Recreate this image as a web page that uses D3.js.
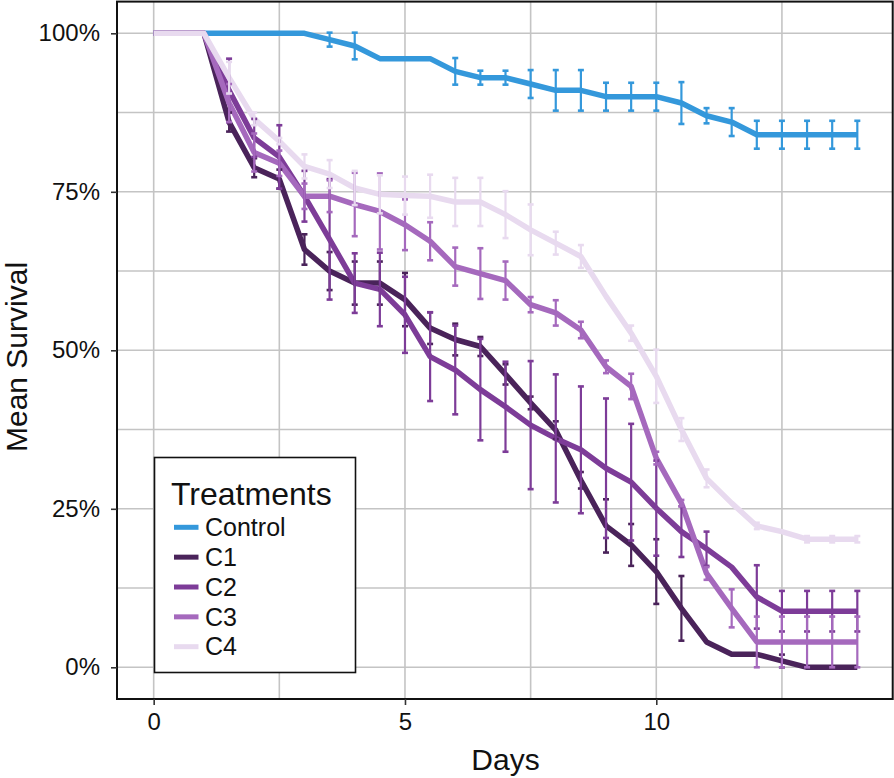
<!DOCTYPE html>
<html>
<head>
<meta charset="utf-8">
<script src="https://cdn.jsdelivr.net/npm/d3@7"></script>
<style>
  html, body { margin: 0; padding: 0; background: #fff; }
  svg { display: block; }
  text { font-family: "Liberation Sans", Arial, Helvetica, sans-serif; }
</style>
</head>
<body>
<svg id="chart" width="894" height="778"></svg>
<script>
// ---------------- DATA ----------------
const days = [0,0.5,1,1.5,2,2.5,3,3.5,4,4.5,5,5.5,6,6.5,7,7.5,8,8.5,9,9.5,10,10.5,11,11.5,12,12.5,13,13.5,14];
const seriesNames = ["Control","C1","C2","C3","C4"];
const seriesColors = ["#3498db","#4a235a","#7d3c98","#a569bd","#e8daef"];

const controlMean = [100,100,100,100,100,100,100,99,98,96,96,96,94,93,93,92,91,91,90,90,90,89,87,86,84,84,84,84,84];
const controlErr  = [0,0,0,0,0,0,0,1.1,2.1,0,0,0,2.1,1.1,1.1,2.2,3.2,3.2,2.2,2.2,2.2,3.3,1.2,2.2,2.2,2.2,2.2,2.2,2.2];

const c1Mean = [100,100,100,86,78.8,77,65.9,62.5,60.6,60.6,58,53.5,51.7,50.6,46.2,41.7,37.4,29.5,22.3,19.3,15.1,9.3,4.0,2.05,2.05,1.0,0,0,0];
const c1Err  = [0,0,0,1.5,1.5,1.5,2.4,3,3.4,3.4,4.2,2.5,2.5,1.5,1.6,1,1.4,1.3,4.2,3.3,5.1,5.1,0,0,0,1,0,0,0];

const c2Mean = [100,100,100,91,83.5,80.5,74.3,67.5,60.6,59.6,55.6,49,46.9,43.8,41.1,38.2,36.1,34.3,31.4,29.2,25.1,21.4,18.7,15.8,11.1,8.85,8.85,8.85,8.85];
const c2Err  = [0,0,0,5,3,5,4,9.5,4.7,5.8,6,7,7,8,7.1,10.1,10.1,10,11,9.2,7.5,4,2.7,0,5,3.2,3.2,3.2,3.2];

const c3Mean = [100,100,100,89,81.2,79.5,74.3,74.3,73,71.9,69.8,67.2,63.2,62.1,61,57.2,55.9,53.2,47.4,44.3,33,25.9,14.8,9.3,4,4,4,4,4];
const c3Err  = [0,0,0,3,3,2,2,2.5,5,6,4,3,3,4,3,1.2,2,1.3,1,2,1,0.5,1,3,4,4,4,4,4];

const c4Mean = [100,100,100,93,86.5,83,79,77.8,75.6,74.6,74.4,74.3,73.4,73.4,71.4,69,66.9,64.8,58.5,52.7,45.9,37.5,29.8,25.9,22.3,21.4,20.2,20.2,20.2];
const c4Err  = [0,0,0,2.5,1,0.5,1.9,2.2,2.7,3,3,3.4,3.8,3.8,3.7,4,1.8,1.8,0,1.2,4.2,1.8,1.4,0,0.5,0,0.5,0.5,0.5];

const xTicks = [0,5,10];
const xGrid = [0,2.5,5,7.5,10,12.5];
const yTicks = [0,0.25,0.5,0.75,1];
const yTickLabels = ["0%","25%","50%","75%","100%"];
const yGrid = [0,0.125,0.25,0.375,0.5,0.625,0.75,0.875,1];

const means = [controlMean, c1Mean, c2Mean, c3Mean, c4Mean];
const errs = [controlErr, c1Err, c2Err, c3Err, c4Err];

// ---------------- CHART ----------------
const svg = d3.select("#chart");
const panel = {left: 117, right: 892.7, top: 1.6, bottom: 699};

const x = d3.scaleLinear().domain([-0.7, 14.7]).range([118.5, 892.5]);
const y = d3.scaleLinear().domain([-0.05, 1.05]).range([699, 1.6]);

// grid
const g = svg.append("g");
g.selectAll("line.hg").data(yGrid).enter().append("line")
  .attr("x1", panel.left).attr("x2", panel.right)
  .attr("y1", d => y(d)).attr("y2", d => y(d))
  .attr("stroke", "#c4c4c4").attr("stroke-width", 1.6);
g.selectAll("line.vg").data(xGrid).enter().append("line")
  .attr("y1", panel.top).attr("y2", panel.bottom)
  .attr("x1", d => x(d)).attr("x2", d => x(d))
  .attr("stroke", "#c4c4c4").attr("stroke-width", 1.6);

// build series objects
const series = seriesNames.map((name, i) => ({
  name, color: seriesColors[i],
  values: days.map((d, j) => ({day: d, mean: means[i][j] / 100, err: errs[i][j] / 100}))
}));

const line = d3.line().x(d => x(d.day)).y(d => y(d.mean));

const plot = svg.append("g");
plot.selectAll("path.series").data(series).enter().append("path")
  .attr("d", d => line(d.values))
  .attr("fill", "none")
  .attr("stroke", d => d.color)
  .attr("stroke-width", 5.5)
  .attr("stroke-linejoin", "round")
  .attr("stroke-linecap", "butt");

// error bars
const capHalf = 3;
series.forEach(s => {
  const eg = plot.append("g").attr("stroke", s.color).attr("stroke-width", 2.2).attr("fill", "none");
  const pts = s.values.filter(v => v.err > 0);
  eg.selectAll("line.v").data(pts).enter().append("line")
    .attr("x1", d => x(d.day)).attr("x2", d => x(d.day))
    .attr("y1", d => y(d.mean + d.err)).attr("y2", d => y(d.mean - d.err));
  eg.selectAll("line.t").data(pts).enter().append("line")
    .attr("x1", d => x(d.day) - capHalf).attr("x2", d => x(d.day) + capHalf)
    .attr("y1", d => y(d.mean + d.err)).attr("y2", d => y(d.mean + d.err))
    .attr("stroke-width", 2.6);
  eg.selectAll("line.b").data(pts).enter().append("line")
    .attr("x1", d => x(d.day) - capHalf).attr("x2", d => x(d.day) + capHalf)
    .attr("y1", d => y(d.mean - d.err)).attr("y2", d => y(d.mean - d.err))
    .attr("stroke-width", 2.6);
});

// panel border
svg.append("rect")
  .attr("x", panel.left).attr("y", panel.top)
  .attr("width", panel.right - panel.left).attr("height", panel.bottom - panel.top)
  .attr("fill", "none").attr("stroke", "#111").attr("stroke-width", 2);

// axes
const xAxis = d3.axisBottom(x).tickValues(xTicks).tickSize(6).tickPadding(8).tickFormat(d3.format("d"));
const xa = svg.append("g").attr("transform", `translate(0,${panel.bottom})`).call(xAxis);
xa.select(".domain").remove();
xa.selectAll(".tick line").attr("stroke", "#333").attr("stroke-width", 1.6);
xa.selectAll(".tick text").attr("font-size", 24).attr("fill", "#111")
  .attr("font-family", "Liberation Sans, Arial, sans-serif");

const yAxis = d3.axisLeft(y).tickValues(yTicks).tickSize(6).tickPadding(11)
  .tickFormat((d, i) => yTickLabels[i]);
const ya = svg.append("g").attr("transform", `translate(${panel.left},0)`).call(yAxis);
ya.select(".domain").remove();
ya.selectAll(".tick line").attr("stroke", "#333").attr("stroke-width", 1.6);
ya.selectAll(".tick text").attr("font-size", 24).attr("fill", "#111")
  .attr("font-family", "Liberation Sans, Arial, sans-serif");

// axis titles
svg.append("text").attr("x", (x(-0.7) + x(14.7)) / 2).attr("y", 770)
  .attr("text-anchor", "middle").attr("font-size", 30).attr("fill", "#111").text("Days");
svg.append("text").attr("transform", "translate(27,357) rotate(-90)")
  .attr("text-anchor", "middle").attr("font-size", 30).attr("fill", "#111").text("Mean Survival");

// legend
const lg = svg.append("g");
lg.append("rect").attr("x", 154.5).attr("y", 457.5).attr("width", 201).attr("height", 215)
  .attr("fill", "#fff").attr("stroke", "#111").attr("stroke-width", 1.6);
lg.append("text").attr("x", 171).attr("y", 505).attr("font-size", 32).attr("fill", "#111").text("Treatments");
const items = lg.selectAll("g.item").data(series).enter().append("g")
  .attr("transform", (d, i) => `translate(0,${527.3 + i * 29.85})`);
items.append("line").attr("x1", 174).attr("x2", 198.5).attr("y1", 0).attr("y2", 0)
  .attr("stroke", d => d.color).attr("stroke-width", 5);
items.append("text").attr("x", 205).attr("y", 8.7).attr("font-size", 25).attr("fill", "#111")
  .text(d => d.name);
</script>
</body>
</html>
